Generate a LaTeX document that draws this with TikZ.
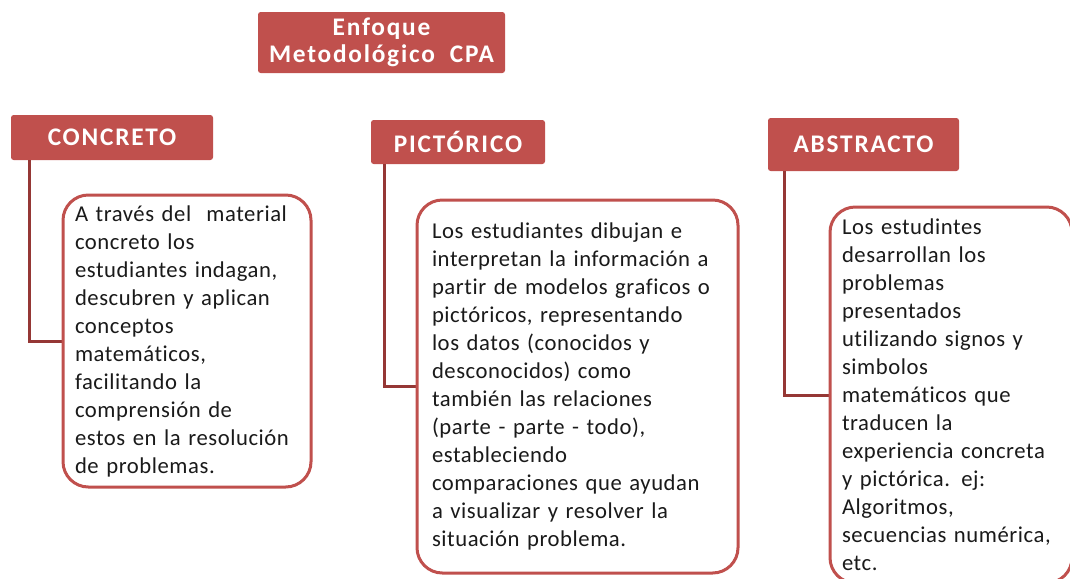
\documentclass[tikz,border=0pt]{standalone}
\usepackage{fontspec}
\setmainfont{Carlito}[Ligatures=NoCommon]
\newfontfamily\headfont{Carlito}[LetterSpace=7, Ligatures=NoCommon]
\newfontfamily\cardfont{Carlito}[LetterSpace=2.5, Ligatures=NoCommon]
\usetikzlibrary{positioning}

\definecolor{cpared}{HTML}{C0504D}
\definecolor{cpadark}{HTML}{953735}
\definecolor{cpatext}{HTML}{1A1A1A}

\begin{document}
\begin{tikzpicture}[x=0.75pt,y=-0.75pt,
	head/.style={fill=cpared, rounded corners=2pt, text=white, inner sep=0pt,
		font=\headfont\bfseries\fontsize{19}{20}\selectfont},
	card/.style={draw=cpared, line width=2.25pt, fill=white, rounded corners=19pt,
		align=left, text=cpatext, inner ysep=0pt, font=\cardfont\fontsize{17}{21}\selectfont},
	link/.style={draw=cpadark, line width=2.25pt}]

\useasboundingbox (0,0) rectangle (1070,578);

% title
\node [head, minimum width=185.25pt, minimum height=45.75pt, align=center,
	font=\headfont\bfseries\fontsize{19}{20.25}\selectfont] (title) at (381.5,42.5)
	{Enfoque\\Metodológico\ \ CPA};

% the three stages
\node [head, minimum width=151.5pt, minimum height=33.75pt] (conc) at (112,137.5) {CONCRETO};
\node [head, minimum width=130.5pt, minimum height=33pt] (pict) at (458,142) {PICTÓRICO};
\node [head, minimum width=143.25pt, minimum height=39.75pt] (abst) at (863.5,144.5) {ABSTRACTO};

\draw [link] ([xshift=14.25pt]conc.south west) |- (187,341);
\draw [link] ([xshift=10.5pt]pict.south west) |- (577.5,386.5);
\draw [link] ([xshift=12.75pt]abst.south west) |- (951,395);

\node [card, text width=168pt, inner xsep=9pt, minimum height=219pt] (concText) at (187,341)
	{A través del\ \ material\\
	concreto los\\
	estudiantes indagan,\\
	descubren y aplican\\
	conceptos\\
	matemáticos,\\
	facilitando la\\
	comprensión de\\
	estos en la resolución\\
	de problemas.};

\node [card, text width=218.25pt, inner xsep=11.25pt, minimum height=279.75pt] (pictText) at (577.5,386.5)
	{Los estudiantes dibujan e\\
	interpretan la información a\\
	partir de modelos graficos o\\
	pictóricos, representando\\
	los datos (conocidos y\\
	desconocidos) como\\
	también las relaciones\\
	(parte - parte - todo),\\
	estableciendo\\
	comparaciones que ayudan\\
	a visualizar y resolver la\\
	situación problema.};

\node [card, text width=163.5pt, inner xsep=9pt, minimum height=282pt] (abstText) at (951,395)
	{Los estudintes\\
	desarrollan los\\
	problemas\\
	presentados\\
	utilizando signos y\\
	simbolos\\
	matemáticos que\\
	traducen la\\
	experiencia concreta\\
	y pictórica. ej:\\
	Algoritmos,\\
	secuencias numérica,\\
	etc.};

\end{tikzpicture}
\end{document}
